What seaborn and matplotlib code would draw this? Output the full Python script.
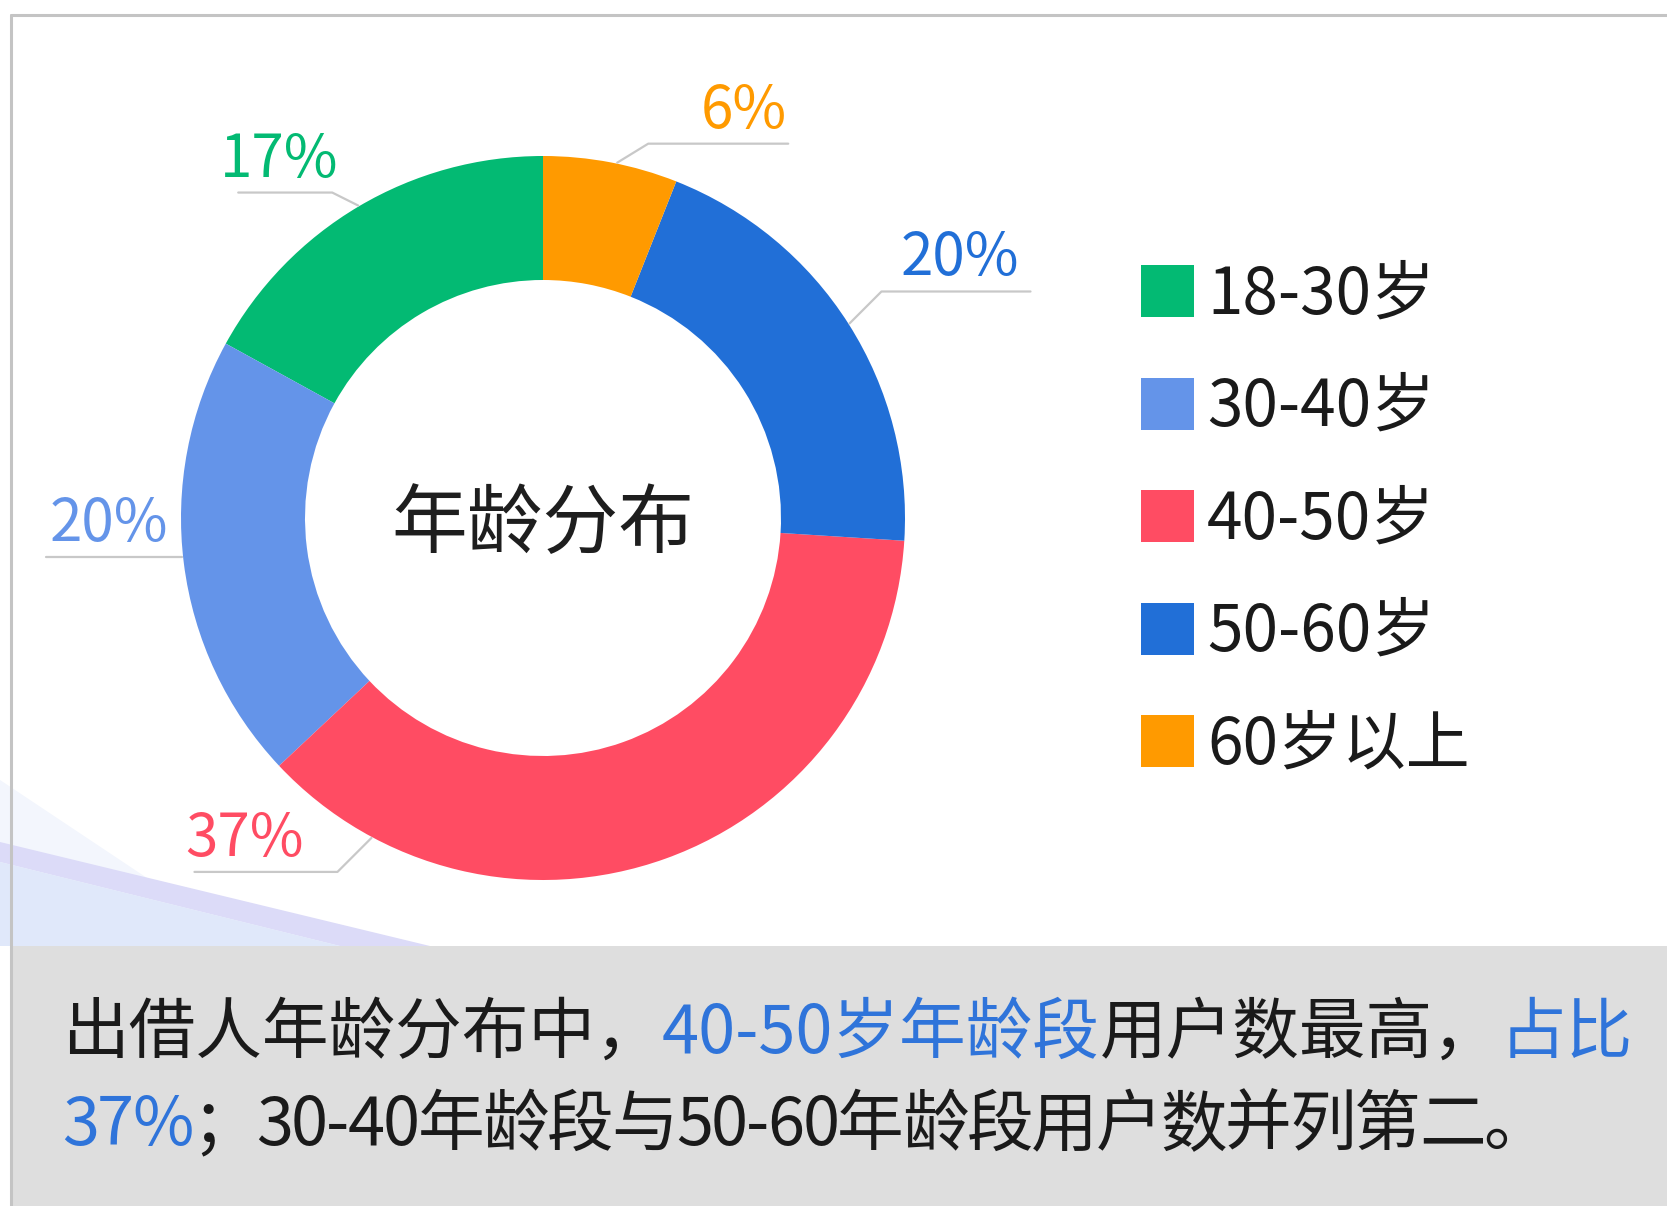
import numpy as np
import matplotlib.pyplot as plt
import seaborn as sns
from matplotlib.patches import Rectangle, Polygon

# Datos
categorias = ["18-30岁", "30-40岁", "40-50岁", "50-60岁", "60岁以上"]
porcentajes = [17, 20, 37, 20, 6]
colores = ["#03BA73", "#6494E9", "#FF4C63", "#216FD7", "#FF9A00"]
titulo_centro = "年龄分布"
# texto inferior: (trozo, es_destacado)
linea1 = [("出借人年龄分布中，", False), ("40-50岁年龄段", True),
          ("用户数最高，", False), ("占比", True)]
linea2 = [("37%", True), ("；30-40年龄段与50-60年龄段用户数并列第二。", False)]

sns.set_theme(style="white")
plt.rcParams["font.family"] = ["Noto Sans CJK SC", "DejaVu Sans"]

W, H = 1667, 1206
fig = plt.figure(figsize=(W / 100, H / 100), dpi=100)
fig.patch.set_facecolor("white")
ax = fig.add_axes([0, 0, 1, 1])

# fondo: ondas suaves abajo a la izquierda
ax.add_patch(Polygon([(0, H - 780), (150, H - 880), (420, H - 946), (0, H - 946)],
                     closed=True, facecolor="#F3F6FD", edgecolor="none", zorder=0))
ax.add_patch(Polygon([(0, H - 842), (430, H - 946), (340, H - 946), (0, H - 862)],
                     closed=True, facecolor="#DCDBF8", edgecolor="none", zorder=0))
ax.add_patch(Polygon([(0, H - 862), (340, H - 946), (0, H - 946)],
                     closed=True, facecolor="#E0E8FA", edgecolor="none", zorder=0))

# panel gris inferior y bordes
ax.add_patch(Rectangle((12, 0), W - 12, H - 946, facecolor="#DEDEDE",
                       edgecolor="none", zorder=1))
ax.plot([11, W], [H - 15, H - 15], color="#C4C4C4", lw=2.2, zorder=2)
ax.plot([11, 11], [0, H - 15], color="#C4C4C4", lw=2.2, zorder=2)

# donut
cx, cy, R = 543, H - 518, 362
wedges, _ = ax.pie(porcentajes, colors=colores, startangle=90, counterclock=True,
                   radius=R, center=(cx, cy),
                   wedgeprops=dict(width=124, linewidth=0))
ax.set_xlim(0, W)
ax.set_ylim(0, H)
ax.set_aspect("equal")
ax.axis("off")

ax.text(cx, cy - 8, titulo_centro, ha="center", va="center", fontsize=54.5,
        color="#1E1E1E", zorder=5)

# etiquetas con línea guía: giro del punto de arranque, codo (dx, dy), largo
giro = [0, -1, -48, 0, -1]
codo = [(-26, 13), (-2, 0), (-34, -34), (32, 32), (31, 19)]
largo = [94, 134, 143, 149, 140]
ajuste = [18, -3, 9, -11, -1]
for w, p, c, g, (dx, dy), L, a in zip(wedges, porcentajes, colores, giro,
                                       codo, largo, ajuste):
    ang = np.deg2rad((w.theta1 + w.theta2) / 2 + g)
    x0, y0 = cx + (R + 1) * np.cos(ang), cy + (R + 1) * np.sin(ang)
    x1, y1 = x0 + dx, y0 + dy
    lado = 1 if np.cos(ang) > 0 else -1
    x2 = x1 + lado * L
    ax.plot([x0, x1, x2], [y0, y1, y1], color="#C8C8C8", lw=1.6, zorder=3)
    ax.text(x2 + lado * a, y1 + 16, f"{p}%", color=c, fontsize=42,
            ha="right" if lado > 0 else "left", va="baseline", zorder=5)

# leyenda
for i, (cat, c) in enumerate(zip(categorias, colores)):
    yc = H - (291 + i * 112.5)
    ax.add_patch(Rectangle((1141, yc - 26), 53, 52, facecolor=c,
                           edgecolor="none", zorder=4))
    ax.text(1207, yc - 4, cat, ha="left", va="center", fontsize=46,
            color="#1A1A1A", zorder=5)

# texto inferior multicolor
fig.canvas.draw()
rend = fig.canvas.get_renderer()


def ancho(txt, fs):
    t1 = ax.text(0, 0, txt + "|", fontsize=fs)
    t2 = ax.text(0, 0, "|", fontsize=fs)
    wdt = t1.get_window_extent(rend).width - t2.get_window_extent(rend).width
    t1.remove()
    t2.remove()
    return wdt


fs_inf = 48
azul, negro = "#2F74DA", "#1A1A1A"

x = 62
for txt, dest in linea1:
    ax.text(x, H - 1053, txt, fontsize=fs_inf, va="baseline", ha="left",
            color=azul if dest else negro, zorder=5)
    x += ancho(txt, fs_inf)

# segunda línea algo más apretada, carácter a carácter
x = 62
for txt, dest in linea2:
    for ch in txt:
        ax.text(x, H - 1145, ch, fontsize=fs_inf, va="baseline", ha="left",
                color=azul if dest else negro, zorder=5)
        x += ancho(ch, fs_inf) - 2

fig.savefig("out.png", dpi=100, facecolor="white")
